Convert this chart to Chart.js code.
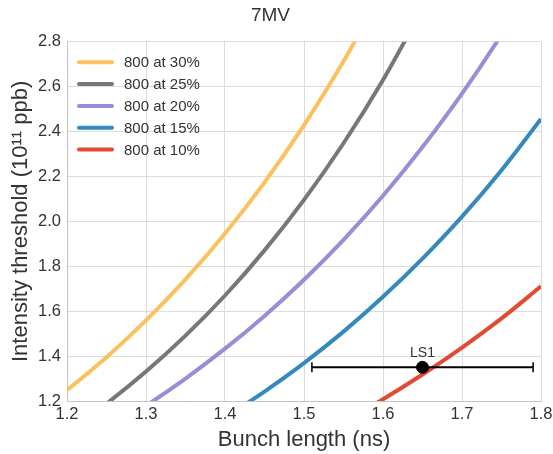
<!DOCTYPE html>
<html>
<head>
<meta charset="utf-8">
<script src="https://cdn.jsdelivr.net/npm/chart.js@4.4.0/dist/chart.umd.min.js"></script>
<style>
  html, body { margin: 0; padding: 0; background: #fff; }
  #wrap { width: 553px; height: 454px; }
</style>
</head>
<body>
<div id="wrap"><canvas id="g1"></canvas></div>
<script>
// curves (bunch length in ns -> threshold in 1e11 ppb)
var x30 = [1.15, 1.2, 1.25, 1.3, 1.35, 1.4, 1.45, 1.5, 1.55, 1.6];
var y30 = [1.118, 1.249, 1.395, 1.559, 1.742, 1.946, 2.174, 2.429, 2.713, 3.031];

var x25 = [1.2, 1.25, 1.3, 1.35, 1.4, 1.45, 1.5, 1.55, 1.6, 1.65];
var y25 = [1.060, 1.188, 1.331, 1.491, 1.67, 1.871, 2.096, 2.348, 2.63, 2.947];

var x20 = [1.25, 1.3, 1.35, 1.4, 1.45, 1.5, 1.55, 1.6, 1.65, 1.7, 1.75, 1.8];
var y20 = [1.070, 1.179, 1.300, 1.433, 1.579, 1.74, 1.918, 2.114, 2.331, 2.569, 2.832, 3.122];

var x15 = [1.4, 1.45, 1.5, 1.55, 1.6, 1.65, 1.7, 1.75, 1.8];
var y15 = [1.127, 1.242, 1.369, 1.509, 1.664, 1.834, 2.021, 2.228, 2.456];

var x10 = [1.55, 1.6, 1.65, 1.7, 1.75, 1.8];
var y10 = [1.107, 1.208, 1.318, 1.438, 1.568, 1.711];

// measured point with horizontal error bar
var ls1 = {x: 1.65, y: 1.35, xmin: 1.51, xmax: 1.79, label: 'LS1'};

var labels = ['800 at 30%', '800 at 25%', '800 at 20%', '800 at 15%', '800 at 10%'];
var warna = ['#fbc15e', '#777777', '#988ed5', '#348abd', '#e24a33'];

function pasang(xs, ys) {
    return xs.map(function(v, i) { return {x: v, y: ys[i]}; });
}

var series = [pasang(x30, y30), pasang(x25, y25), pasang(x20, y20), pasang(x15, y15), pasang(x10, y10)];

var datasets = series.map(function(d, i) {
    return {
        label: labels[i],
        data: d,
        showLine: true,
        borderColor: warna[i],
        backgroundColor: warna[i],
        borderWidth: 4,
        pointRadius: 0,
        cubicInterpolationMode: 'monotone',
        order: 2
    };
});

// error bar with caps
datasets.push({
    label: 'errbar',
    data: [{x: ls1.xmin, y: ls1.y}, {x: ls1.xmax, y: ls1.y}],
    showLine: true,
    borderColor: '#000',
    borderWidth: 2,
    pointStyle: 'line',
    rotation: 90,
    pointRadius: 5,
    pointBorderWidth: 1.5,
    pointBorderColor: '#000',
    order: 1
});
datasets.push({
    label: ls1.label,
    data: [{x: ls1.x, y: ls1.y}],
    showLine: false,
    pointRadius: 6,
    backgroundColor: '#000',
    borderColor: '#000',
    order: 0
});

var FONT = "'Liberation Sans', Arial, sans-serif";

// legend drawn inside the plot area
var legendDalam = {
    id: 'legendDalam',
    afterDraw: function(chart) {
        var c = chart.ctx, a = chart.chartArea;
        c.save();
        c.font = '15px ' + FONT;
        c.textBaseline = 'middle';
        for (var i = 0; i < labels.length; i++) {
            var yy = a.top + 20.5 + i * 21.8;
            c.strokeStyle = warna[i];
            c.lineWidth = 4;
            c.lineCap = 'round';
            c.beginPath();
            c.moveTo(a.left + 12, yy);
            c.lineTo(a.left + 45, yy);
            c.stroke();
            c.fillStyle = '#333';
            c.fillText(labels[i], a.left + 57, yy + 1);
        }
        // point label
        var px = chart.scales.x.getPixelForValue(ls1.x);
        var py = chart.scales.y.getPixelForValue(ls1.y);
        c.font = '14px ' + FONT;
        c.textAlign = 'center';
        c.textBaseline = 'bottom';
        c.fillText(ls1.label, px, py - 7);
        c.restore();
    }
};

var ctx = document.getElementById('g1');

var myChart = new Chart(ctx, {
    type: 'scatter',
    data: {datasets: datasets},
    plugins: [legendDalam],
    options: {
        responsive: true,
        maintainAspectRatio: false,
        animation: false,
        layout: {padding: {left: 0, right: 12, top: 0, bottom: 0}},
        plugins: {
            legend: {display: false},
            tooltip: {enabled: false},
            title: {
                display: true,
                text: '7MV',
                color: '#333',
                font: {family: FONT, size: 19, weight: 'normal'},
                padding: {top: 4, bottom: 15}
            }
        },
        scales: {
            x: {
                type: 'linear',
                min: 1.2,
                max: 1.8,
                afterFit: function(s) {
                    s.height = 53;
                    s.paddingRight = 0;
                },
                ticks: {
                    stepSize: 0.1,
                    color: '#333',
                    padding: 4,
                    font: {family: FONT, size: 16.5},
                    callback: function(v) { return v.toFixed(1); }
                },
                grid: {color: '#dcdcdc', drawTicks: false},
                border: {color: '#c4c4c4'},
                title: {
                    display: true,
                    text: 'Bunch length (ns)',
                    color: '#333',
                    font: {family: FONT, size: 22},
                    padding: {top: 2, bottom: 1}
                }
            },
            y: {
                min: 1.2,
                max: 2.8,
                afterFit: function(s) { s.width = 67; },
                ticks: {
                    stepSize: 0.2,
                    color: '#333',
                    padding: 6,
                    font: {family: FONT, size: 16.5},
                    callback: function(v) { return v.toFixed(1); }
                },
                grid: {color: '#dcdcdc', drawTicks: false},
                border: {color: '#c4c4c4'},
                title: {
                    display: true,
                    text: 'Intensity threshold (10\u00b9\u00b9 ppb)',
                    color: '#333',
                    font: {family: FONT, size: 22},
                    padding: {top: 8, bottom: 0}
                }
            }
        }
    }
});
</script>
</body>
</html>
